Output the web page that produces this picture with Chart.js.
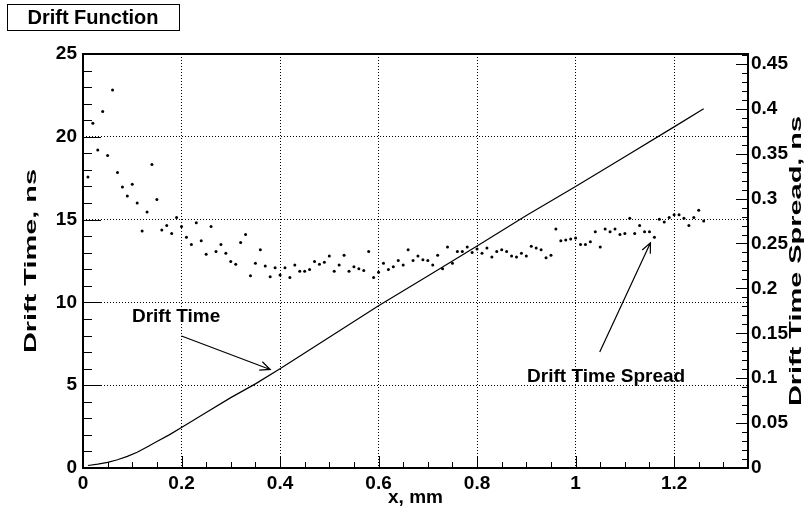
<!DOCTYPE html>
<html>
<head>
<meta charset="utf-8">
<script src="https://cdn.jsdelivr.net/npm/chart.js@4.4.1/dist/chart.umd.min.js"></script>
<style>
  html, body { margin: 0; padding: 0; background: #fff; }
  #wrap { width: 809px; height: 511px; }
</style>
</head>
<body>
<div id="wrap"><canvas id="chart" width="809" height="511"></canvas></div>
<script>
const FONT = '"Liberation Sans", Arial, Helvetica, sans-serif';

const chartTitle = "Drift Function";
const xTitle = "x, mm";
const yTitle = "Drift Time, ns";
const y2Title = "Drift Time Spread, ns";

// drift time curve, left axis (ns)
const timeX = [0.01, 0.03, 0.05, 0.07, 0.09, 0.11, 0.13, 0.15, 0.175, 0.2, 0.25, 0.3, 0.35, 0.4, 0.5, 0.6, 0.7, 0.8, 0.9, 1.0, 1.1, 1.2, 1.26];
const timeY = [0.15, 0.23, 0.34, 0.5, 0.7, 0.95, 1.27, 1.6, 2.0, 2.45, 3.35, 4.25, 5.08, 6.0, 7.9, 9.8, 11.6, 13.4, 15.25, 17.0, 18.8, 20.6, 21.7];

// drift time spread points, right axis (ns)
const spreadX = [
  0.01, 0.02, 0.03, 0.04, 0.05, 0.06, 0.07, 0.08, 0.09, 0.10,
  0.11, 0.12, 0.13, 0.14, 0.15, 0.16, 0.17, 0.18, 0.19, 0.20,
  0.21, 0.22, 0.23, 0.24, 0.25, 0.26, 0.27, 0.28, 0.29, 0.30,
  0.31, 0.32, 0.33, 0.34, 0.35, 0.36, 0.37, 0.38, 0.39, 0.40,
  0.41, 0.42, 0.43, 0.44, 0.45, 0.46, 0.47, 0.48, 0.49, 0.50,
  0.51, 0.52, 0.53, 0.54, 0.55, 0.56, 0.57, 0.58, 0.59, 0.60,
  0.61, 0.62, 0.63, 0.64, 0.65, 0.66, 0.67, 0.68, 0.69, 0.70,
  0.71, 0.72, 0.73, 0.74, 0.75, 0.76, 0.77, 0.78, 0.79, 0.80,
  0.81, 0.82, 0.83, 0.84, 0.85, 0.86, 0.87, 0.88, 0.89, 0.90,
  0.91, 0.92, 0.93, 0.94, 0.95, 0.96, 0.97, 0.98, 0.99, 1.00,
  1.01, 1.02, 1.03, 1.04, 1.05, 1.06, 1.07, 1.08, 1.09, 1.10,
  1.11, 1.12, 1.13, 1.14, 1.15, 1.16, 1.17, 1.18, 1.19, 1.20,
  1.21, 1.22, 1.23, 1.24, 1.25, 1.26
];
const spreadY = [
  0.324, 0.384, 0.354, 0.397, 0.348, 0.421, 0.329, 0.313, 0.303, 0.316,
  0.295, 0.264, 0.285, 0.338, 0.299, 0.265, 0.270, 0.261, 0.279, 0.269,
  0.257, 0.249, 0.273, 0.253, 0.238, 0.269, 0.241, 0.249, 0.239, 0.230,
  0.227, 0.251, 0.260, 0.214, 0.228, 0.243, 0.225, 0.213, 0.223, 0.215,
  0.223, 0.212, 0.226, 0.219, 0.219, 0.221, 0.230, 0.227, 0.229, 0.236,
  0.219, 0.226, 0.237, 0.219, 0.224, 0.222, 0.220, 0.241, 0.212, 0.218,
  0.228, 0.221, 0.224, 0.231, 0.226, 0.243, 0.231, 0.236, 0.232, 0.231,
  0.226, 0.237, 0.222, 0.246, 0.228, 0.241, 0.241, 0.246, 0.240, 0.244,
  0.239, 0.245, 0.235, 0.241, 0.243, 0.241, 0.236, 0.235, 0.239, 0.236,
  0.247, 0.245, 0.243, 0.234, 0.237, 0.266, 0.253, 0.254, 0.255, 0.256,
  0.249, 0.249, 0.252, 0.263, 0.246, 0.266, 0.263, 0.266, 0.260, 0.261,
  0.278, 0.261, 0.270, 0.263, 0.263, 0.257, 0.277, 0.274, 0.279, 0.282,
  0.282, 0.278, 0.270, 0.279, 0.287, 0.275
];

// text labels with arrows, in data units of x / left axis
const notes = [
  { text: "Drift Time", at: [0.189, 9.15], from: [0.2, 7.97], to: [0.38, 5.95] },
  { text: "Drift Time Spread", at: [1.062, 5.48], from: [1.049, 7.0], to: [1.152, 13.6] }
];

function fmt(v) {
  return String(Number(v.toFixed(2)));
}

function drawTicks(ctx, scale, area, minor, major, longLen, shortLen, side) {
  const n = Math.round((scale.max - scale.min) / minor);
  for (let i = 0; i <= n; i++) {
    const v = scale.min + i * minor;
    if (v > scale.max + 1e-9) break;
    const r = v / major;
    const len = Math.abs(r - Math.round(r)) < 1e-6 ? longLen : shortLen;
    const p = Math.round(scale.getPixelForValue(v)) + 0.5;
    ctx.beginPath();
    if (side === "bottom") {
      ctx.moveTo(p, area.bottom);
      ctx.lineTo(p, area.bottom - len);
    } else if (side === "left") {
      ctx.moveTo(area.left, p);
      ctx.lineTo(area.left + len, p);
    } else {
      ctx.moveTo(area.right, p);
      ctx.lineTo(area.right - len, p);
    }
    ctx.stroke();
  }
}

function arrow(ctx, x1, y1, x2, y2) {
  ctx.beginPath();
  ctx.moveTo(x1, y1);
  ctx.lineTo(x2, y2);
  const a = Math.atan2(y2 - y1, x2 - x1);
  const L = 11, w = 0.42;
  ctx.moveTo(x2 - L * Math.cos(a - w), y2 - L * Math.sin(a - w));
  ctx.lineTo(x2, y2);
  ctx.lineTo(x2 - L * Math.cos(a + w), y2 - L * Math.sin(a + w));
  ctx.stroke();
}

// vertical axis titles in the reference are stretched along their length
function verticalTitle(ctx, text, x, y) {
  ctx.save();
  ctx.translate(x, y);
  ctx.rotate(-Math.PI / 2);
  ctx.scale(1.7, 1);
  ctx.font = "bold 17px " + FONT;
  ctx.fillText(text, 0, 0);
  ctx.restore();
}

const rootStyle = {
  id: "rootStyle",
  afterDraw(chart) {
    const { ctx, chartArea: a, scales } = chart;
    ctx.save();
    ctx.strokeStyle = "#000";
    ctx.fillStyle = "#000";

    // frame
    ctx.lineWidth = 2;
    ctx.strokeRect(a.left, a.top, a.right - a.left, a.bottom - a.top);

    // inner ticks
    ctx.lineWidth = 1;
    drawTicks(ctx, scales.x, a, 0.05, 0.2, 12, 6, "bottom");
    drawTicks(ctx, scales.y, a, 1, 5, 18, 9, "left");
    drawTicks(ctx, scales.y2, a, 0.01, 0.05, 12, 6, "right");

    // axis titles
    ctx.font = "bold 19px " + FONT;
    ctx.textAlign = "center";
    ctx.textBaseline = "middle";
    ctx.fillText(xTitle, (a.left + a.right) / 2, 498);
    const midY = (a.top + a.bottom) / 2;
    verticalTitle(ctx, yTitle, 31, midY);
    verticalTitle(ctx, y2Title, 796, midY);

    // title box
    ctx.lineWidth = 1;
    ctx.fillStyle = "#fff";
    ctx.fillRect(7.5, 4.5, 172, 26);
    ctx.strokeRect(7.5, 4.5, 172, 26);
    ctx.fillStyle = "#000";
    ctx.font = "bold 20px " + FONT;
    ctx.fillText(chartTitle, 93, 18);

    // notes with arrows
    ctx.font = "bold 19px " + FONT;
    ctx.lineWidth = 1.2;
    notes.forEach(n => {
      const px = v => scales.x.getPixelForValue(v);
      const py = v => scales.y.getPixelForValue(v);
      ctx.fillText(n.text, px(n.at[0]), py(n.at[1]));
      arrow(ctx, px(n.from[0]), py(n.from[1]), px(n.to[0]), py(n.to[1]));
    });
    ctx.restore();
  }
};

const ctx = document.getElementById("chart");

Chart.defaults.font.family = FONT;
Chart.defaults.font.weight = "bold";
Chart.defaults.color = "#000";

new Chart(ctx, {
  type: "scatter",
  data: {
    datasets: [
      {
        label: "Drift Time",
        data: timeX.map((x, i) => ({ x: x, y: timeY[i] })),
        showLine: true,
        borderColor: "#000",
        borderWidth: 1.2,
        pointRadius: 0,
        tension: 0,
        yAxisID: "y"
      },
      {
        label: "Drift Time Spread",
        data: spreadX.map((x, i) => ({ x: x, y: spreadY[i] })),
        showLine: false,
        pointRadius: 1.5,
        pointStyle: "circle",
        backgroundColor: "#000",
        borderColor: "#000",
        borderWidth: 0,
        yAxisID: "y2"
      }
    ]
  },
  options: {
    responsive: false,
    animation: false,
    devicePixelRatio: 1,
    layout: { padding: { top: 54, left: 0, right: 0, bottom: 0 } },
    plugins: {
      legend: { display: false },
      tooltip: { enabled: false }
    },
    scales: {
      x: {
        type: "linear",
        position: "bottom",
        min: 0,
        max: 1.35,
        afterFit: s => { s.height = 43; },
        ticks: {
          stepSize: 0.2,
          includeBounds: false,
          padding: 4,
          maxRotation: 0,
          autoSkip: false,
          font: { size: 19, weight: "bold" },
          callback: v => fmt(v)
        },
        grid: { color: "#000", lineWidth: 1, drawTicks: false, borderDash: [1, 2] },
        border: { display: false, dash: [1, 2] }
      },
      y: {
        type: "linear",
        position: "left",
        min: 0,
        max: 25,
        afterFit: s => { s.width = 83; },
        ticks: {
          stepSize: 5,
          includeBounds: false,
          padding: 6,
          font: { size: 19, weight: "bold" },
          callback: v => fmt(v)
        },
        grid: { color: "#000", lineWidth: 1, drawTicks: false, borderDash: [1, 2] },
        border: { display: false, dash: [1, 2] }
      },
      y2: {
        type: "linear",
        position: "right",
        min: 0,
        max: 0.461,
        afterFit: s => { s.width = 61; },
        ticks: {
          stepSize: 0.05,
          includeBounds: false,
          padding: 3,
          font: { size: 19, weight: "bold" },
          callback: v => fmt(v)
        },
        grid: { display: false, drawTicks: false },
        border: { display: false }
      }
    }
  },
  plugins: [rootStyle]
});
</script>
</body>
</html>
